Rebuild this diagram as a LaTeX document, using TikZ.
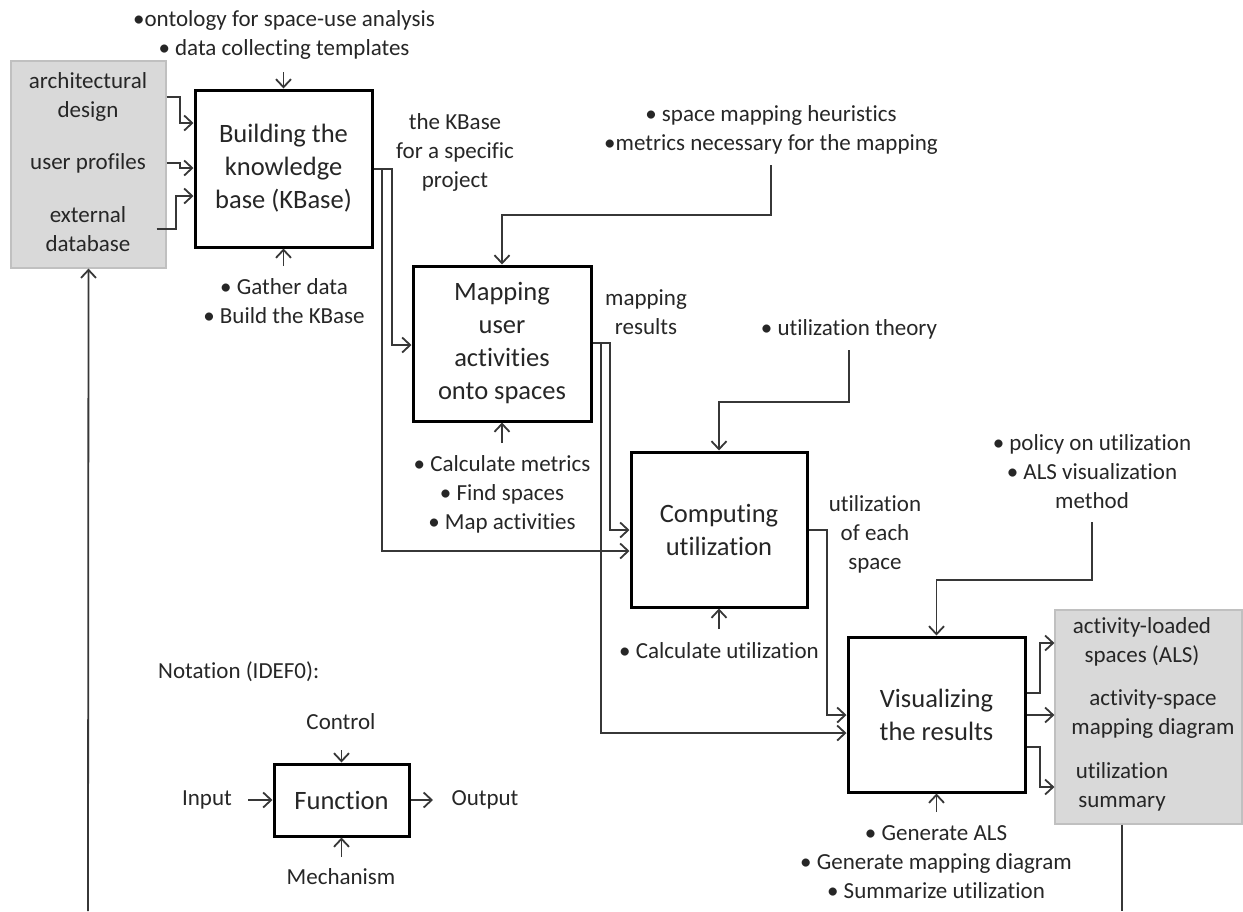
\documentclass[tikz,border=0pt]{standalone}
\usepackage{fontspec}
\setmainfont{Carlito}[Ligatures={NoCommon,NoRequired}]
\usetikzlibrary{arrows.meta}
\definecolor{ink}{RGB}{38,38,38}
\definecolor{linec}{RGB}{55,55,55}
\definecolor{panel}{RGB}{217,217,217}
\definecolor{panelrim}{RGB}{192,192,192}

\begin{document}
\begin{tikzpicture}[x=1pt,y=-1pt,
  every node/.style={text=ink, inner sep=0pt, align=center},
  func/.style={draw=black, line width=3pt, fill=white, font=\fontsize{26.5}{33}\selectfont},
  store/.style={draw=panelrim, line width=1.2pt, fill=panel},
  note/.style={font=\fontsize{23}{29}\selectfont},
  link/.style={draw=linec, line width=1.8pt},
  flow/.style={link, -{Straight Barb[length=8pt,width=15pt,line width=1.8pt]}},
]
\useasboundingbox (0,0) rectangle (1243,911);

% ---------- data stores ----------
\node[store, minimum width=155pt, minimum height=207pt] (src) at (88.5,164.5) {};
\node[note] (srcA) at (88,97) {architectural\\design};
\node[note] (srcB) at (88,163) {user profiles};
\node[note] (srcC) at (88,229) {external\\database};

\node[store, minimum width=187pt, minimum height=214pt] (out) at (1148.5,717) {};
\node[note] (outA) at (1142,642) {activity-loaded\\spaces (ALS)};
\node[note] (outB) at (1153,714) {activity-space\\mapping diagram};
\node[note] (outC) at (1122,787) {utilization\\summary};

% ---------- activities ----------
\node[func, minimum width=177pt, minimum height=157pt] (b1) at (283.5,168.5) {Building the\\knowledge\\base (KBase)};
\node[func, minimum width=178pt, minimum height=155pt] (b2) at (502,343.5) {Mapping\\user\\activities\\onto spaces};
\node[func, minimum width=176pt, minimum height=155pt] (b3) at (719,529.5) {Computing\\utilization};
\node[func, minimum width=177pt, minimum height=155pt] (b4) at (936.5,714.5) {Visualizing\\the results};

% ---------- controls and mechanisms ----------
\node[note] (c1) at (284,35) {•ontology for space-use analysis\\• data collecting templates};
\node[note] (m1) at (284,301) {• Gather data\\• Build the KBase};
\node[note] (c2) at (771,130) {• space mapping heuristics\\•metrics necessary for the mapping};
\node[note] (m2) at (502,494) {• Calculate metrics\\• Find spaces\\• Map activities};
\node[note] (c3) at (849,329) {• utilization theory};
\node[note] (m3) at (719,651) {• Calculate utilization};
\node[note] (c4) at (1092,472) {• policy on utilization\\• ALS visualization\\method};
\node[note] (m4) at (936,862) {• Generate ALS\\• Generate mapping diagram\\• Summarize utilization};

% ---------- output labels ----------
\node[note] (o1) at (455,152) {the KBase\\for a specific\\project};
\node[note] (o2) at (646,312) {mapping\\results};
\node[note] (o3) at (875,534) {utilization\\of each\\space};

% ---------- inputs to the first activity ----------
\draw[flow] (src.east |- 0,97) -- (180,97) -- (180,123) -- (b1.west |- 0,123);
\draw[flow] (src.east |- 0,163) -- (180,163) -- (180,168) -- (b1.west |- 0,168);
\draw[flow] ([xshift=-10pt]src.east |- 0,229) -- (176,229) -- (176,196) -- (b1.west |- 0,196);

% ---------- controls ----------
\draw[flow] (b1.north |- 0,72) -- (b1.north);
\draw[flow] (771,165) -- (771,215) -- (b2.north |- 0,215) -- (b2.north);
\draw[flow] (849,350) -- (849,402) -- (b3.north |- 0,402) -- (b3.north);
\draw[flow] (1092,522) -- (1092,580) -- (b4.north |- 0,580) -- (b4.north);

% ---------- mechanisms ----------
\draw[flow] (b1.south |- 0,266) -- (b1.south);
\draw[flow] (b2.south |- 0,443) -- (b2.south);
\draw[flow] (b3.south |- 0,629) -- (b3.south);
\draw[flow] (b4.south |- 0,812) -- (b4.south);

% ---------- flows between activities ----------
\draw[flow] (b1.east |- 0,169) -- (392,169) -- (392,345) -- (b2.west |- 0,345);
\draw[flow] (b1.east |- 0,169) -- (382,169) -- (382,551) -- (b3.west |- 0,551);
\draw[flow] (b2.east |- 0,343) -- (610,343) -- (610,530) -- (b3.west |- 0,530);
\draw[flow] (b2.east |- 0,343) -- (601,343) -- (601,733) -- (b4.west |- 0,733);
\draw[flow] (b3.east |- 0,530) -- (827,530) -- (827,715) -- (b4.west |- 0,715);

% ---------- outputs of the last activity ----------
\draw[flow] (b4.east |- 0,693) -- (1040,693) -- (1040,643) -- (out.west |- 0,643);
\draw[flow] (b4.east |- 0,715) -- (out.west |- 0,715);
\draw[flow] (b4.east |- 0,747) -- (1040,747) -- (1040,787) -- (out.west |- 0,787);

% ---------- feedback loop leaving the sheet ----------
\coordinate (fbR) at (1122,911);
\coordinate (fbL) at (88,911);
\draw[link] (out.south -| fbR) -- (fbR);
\draw[flow] (fbL) -- (src.south);

% ---------- notation key ----------
\node[note, anchor=west] (key) at (158,672) {Notation (IDEF0):};
\node[func, minimum width=135pt, minimum height=72pt] (fn) at (341.5,800) {Function};
\node[note] (kC) at (341,722) {Control};
\node[note] (kM) at (341,877) {Mechanism};
\node[note] (kI) at (207,800) {Input};
\node[note] (kO) at (485,800) {Output};
\draw[flow] (fn.north |- 0,750) -- (fn.north);
\draw[flow] (fn.south |- 0,857) -- (fn.south);
\draw[flow] (248,800) -- (fn.west);
\draw[flow] (fn.east) -- (433,800);
\end{tikzpicture}
\end{document}
